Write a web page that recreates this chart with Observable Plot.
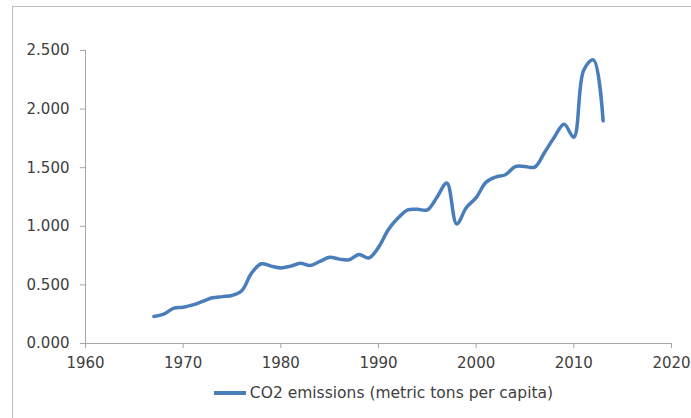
<!DOCTYPE html>
<html>
<head>
<meta charset="utf-8">
<script src="https://cdn.jsdelivr.net/npm/d3@7"></script>
<script src="https://cdn.jsdelivr.net/npm/@observablehq/plot@0.6"></script>
<style>
  html, body { margin: 0; padding: 0; background: #fff; }
  body { width: 691px; height: 418px; overflow: hidden; position: relative; font-family: "DejaVu Sans", sans-serif; }
  #frame { position: absolute; left: 12px; top: 6px; width: 700px; height: 430px; border: 1px solid #bfbfbf; box-sizing: border-box; pointer-events: none; }
  #chart { position: absolute; left: 0; top: 0; }
  #legend { position: absolute; left: 0; top: 384px; width: 691px; display: flex; justify-content: center; align-items: center; padding-left: 76px; box-sizing: border-box; font-size: 15.5px; color: #404040; }
  #legend .sw { display: inline-block; width: 32px; height: 4px; background: #4a7ebb; margin-right: 4px; }
</style>
</head>
<body>
<div id="frame"></div>
<div id="chart"></div>
<div id="legend"><span class="sw"></span><span>CO2 emissions (metric tons per capita)</span></div>
<script>
const years = [1967,1968,1969,1970,1971,1972,1973,1974,1975,1976,1977,1978,1979,1980,1981,1982,1983,1984,1985,1986,1987,1988,1989,1990,1991,1992,1993,1994,1995,1996,1997,1998,1999,2000,2001,2002,2003,2004,2005,2006,2007,2008,2009,2010,2011,2012,2013];
const co2 = [0.23,0.25,0.30,0.31,0.33,0.36,0.39,0.40,0.41,0.45,0.60,0.68,0.66,0.645,0.66,0.685,0.665,0.70,0.735,0.72,0.715,0.76,0.73,0.82,0.97,1.07,1.14,1.145,1.14,1.25,1.37,1.02,1.16,1.245,1.375,1.42,1.44,1.51,1.51,1.505,1.63,1.76,1.87,1.76,2.33,2.42,1.90];
const xTicks = [1960,1970,1980,1990,2000,2010,2020];
const yTicks = [0,0.5,1,1.5,2,2.5];
const seriesName = "CO2 emissions (metric tons per capita)";

const data = years.map((y, i) => ({year: y, value: co2[i]}));

const chart = Plot.plot({
  width: 691,
  height: 375,
  marginLeft: 85,
  marginRight: 20,
  marginTop: 50,
  marginBottom: 32,
  style: {fontFamily: "DejaVu Sans, sans-serif", fontSize: "15px", color: "#404040", background: "transparent"},
  x: {domain: [1960, 2020]},
  y: {domain: [0, 2.5]},
  marks: [
    Plot.axisX({ticks: xTicks, tickFormat: d => String(d), tickSize: 5, tickPadding: 9, stroke: "#a6a6a6", label: null, fill: "#404040"}),
    Plot.axisY({ticks: yTicks, tickFormat: d3.format(".3f"), tickSize: 5, tickPadding: 11, stroke: "#a6a6a6", label: null, fill: "#404040"}),
    Plot.ruleX([1960], {stroke: "#a6a6a6"}),
    Plot.ruleY([0], {stroke: "#a6a6a6"}),
    Plot.line(data, {x: "year", y: "value", stroke: "#4a7ebb", strokeWidth: 3.5, curve: "catmull-rom"})
  ]
});
document.getElementById("chart").appendChild(chart);
document.querySelector("#legend span:last-child").textContent = seriesName;
</script>
</body>
</html>
